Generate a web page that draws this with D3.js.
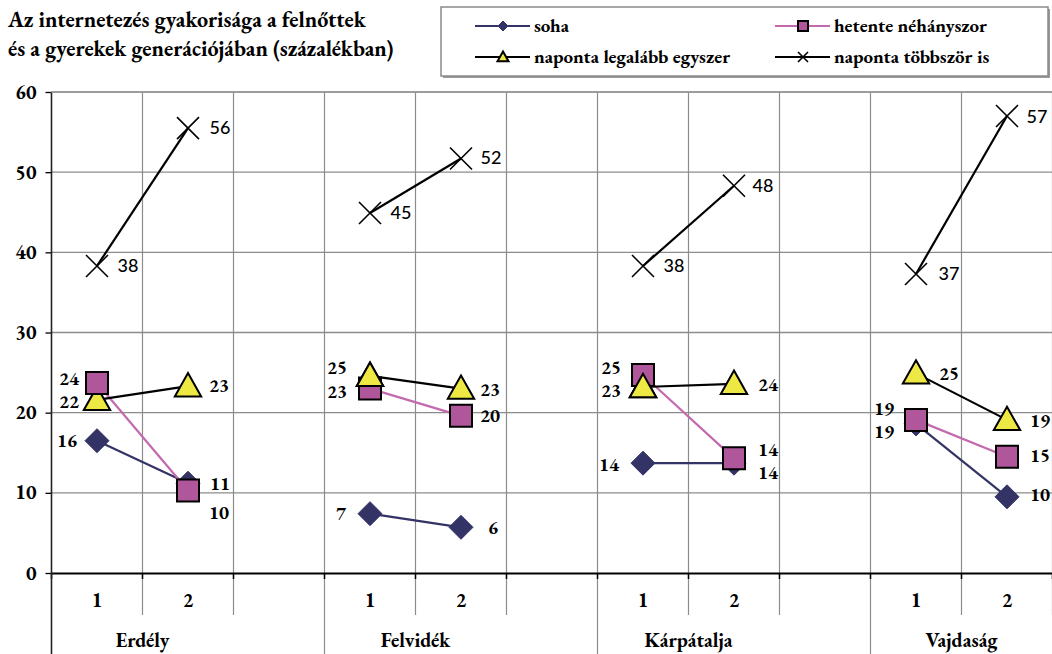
<!DOCTYPE html>
<html><head><meta charset="utf-8">
<script src="https://cdn.jsdelivr.net/npm/d3@7/dist/d3.min.js"></script>
<style>
html,body{margin:0;padding:0;background:#fff;}
svg{display:block;}
text{font-variant-numeric:lining-nums;}
</style></head>
<body>
<svg id="chart" width="1052" height="654"></svg>
<script>
// ---- data ----
const regions = ["Erdély", "Felvidék", "Kárpátalja", "Vajdaság"];
const generations = ["1", "2"];
const yTicks = [0, 10, 20, 30, 40, 50, 60];
const seriesNames = ["soha", "hetente néhányszor", "naponta legalább egyszer", "naponta többször is"];
// values per region: [generation 1, generation 2]
const soha      = [[16.5, 11.2], [7.4, 5.7], [13.7, 13.7], [18.6, 9.5]];
const hetente   = [[23.7, 10.3], [23.0, 19.6], [24.7, 14.3], [19.1, 14.5]];
const legalabb  = [[21.6, 23.3], [24.6, 23.0], [23.2, 23.6], [24.9, 19.1]];
const tobbszor  = [[38.3, 55.5], [44.9, 51.7], [38.3, 48.3], [37.3, 57.0]];
const labels = {
  soha:     [["16","11"],["7","6"],["14","14"],["19","10"]],
  hetente:  [["24","10"],["23","20"],["25","14"],["19","15"]],
  legalabb: [["22","23"],["25","23"],["23","24"],["25","19"]],
  tobbszor: [["38","56"],["45","52"],["38","48"],["37","57"]]
};

// ---- layout ----
const SERIF = "'EB Garamond', 'Liberation Serif', serif";
const SANS = "Lato, 'Liberation Sans', sans-serif";
const svg = d3.select("#chart");
const plotTop = 92, plotBottom = 573, plotLeft = 51.5, plotRight = 1052.5;
const slots = [];
regions.forEach((r, ri) => {
  generations.forEach(g => slots.push(r + "|" + g));
  if (ri < regions.length - 1) slots.push("gap" + ri);
});
const x = d3.scaleBand().domain(slots).range([plotLeft, plotRight]).padding(0);
const y = d3.scaleLinear().domain([0, 60]).range([plotBottom, plotTop]);
const grid = "#8c8c8c";

// horizontal grid
svg.append("g").selectAll("line").data(yTicks.filter(d => d > 0)).join("line")
  .attr("x1", plotLeft).attr("x2", plotRight).attr("y1", d => y(d)).attr("y2", d => y(d))
  .attr("stroke", grid).attr("stroke-width", 1.3);

// vertical grid & separators
const bounds = slots.map(s => x(s)).concat([plotRight]);
const gLines = svg.append("g");
bounds.forEach((bx, i) => {
  if (i === 0) return;
  const isSep = slots[i] && slots[i].indexOf("|1") > 0; // start of a region
  gLines.append("line").attr("x1", bx).attr("x2", bx).attr("y1", plotTop).attr("y2", isSep ? 654 : 615)
    .attr("stroke", grid).attr("stroke-width", 1.2);
});

// x axis (tick marks)
const xAxis = d3.axisBottom(x).tickValues([]).tickSizeOuter(0);
const ax = svg.append("g").attr("transform", `translate(0,${plotBottom})`).call(xAxis);
ax.select(".domain").attr("stroke", "#000").attr("stroke-width", 1.8);
svg.append("g").selectAll("line").data(bounds).join("line")
  .attr("x1", d => d).attr("x2", d => d).attr("y1", plotBottom).attr("y2", plotBottom + 6)
  .attr("stroke", "#000").attr("stroke-width", 1.5);

// generation labels
svg.append("g").selectAll("text").data(slots.filter(s => s.indexOf("|") > 0)).join("text")
  .attr("x", s => x(s) + x.bandwidth() / 2).attr("y", 607)
  .attr("text-anchor", "middle").attr("font-weight", "bold").attr("font-size", 20)
  .attr("font-family", SERIF)
  .text(s => s.split("|")[1]);
// region labels
svg.append("g").selectAll("text").data(regions).join("text")
  .attr("x", r => (x(r + "|1") + x(r + "|2") + x.bandwidth()) / 2).attr("y", 647)
  .attr("text-anchor", "middle").attr("font-weight", "bold").attr("font-size", 20)
  .attr("font-family", SERIF)
  .text(r => r);

// y axis
const yAxis = d3.axisLeft(y).tickValues(yTicks).tickSize(6).tickSizeOuter(0);
const ay = svg.append("g").attr("transform", `translate(${plotLeft},0)`).call(yAxis)
  .attr("font-family", SERIF);
ay.select(".domain").remove();
ay.selectAll(".tick line").attr("stroke", "#000").attr("stroke-width", 1.3);
ay.selectAll(".tick text").attr("font-family", SERIF).attr("font-weight", "bold")
  .attr("font-size", 20).attr("fill", "#000").attr("x", -15).attr("dy", "0.3em");
svg.append("line").attr("x1", plotLeft).attr("x2", plotLeft).attr("y1", plotTop).attr("y2", 654)
  .attr("stroke", "#222").attr("stroke-width", 1.6);
// top border
svg.append("line").attr("x1", plotLeft).attr("x2", plotRight).attr("y1", plotTop).attr("y2", plotTop)
  .attr("stroke", "#999").attr("stroke-width", 1.5);

// ---- series ----
const series = [
  {key: "soha", data: soha, line: "#333366", marker: "diamond", fill: "#333366"},
  {key: "hetente", data: hetente, line: "#c36aae", marker: "square", fill: "#b0579b"},
  {key: "legalabb", data: legalabb, line: "#000", marker: "triangle", fill: "#eee844"},
  {key: "tobbszor", data: tobbszor, line: "#000", marker: "cross", fill: "none"}
];
function markerPath(type, s) {
  if (type === "diamond") return `M0,${-s}L${s},0L0,${s}L${-s},0Z`;
  if (type === "square") return `M${-s},${-s}H${s}V${s}H${-s}Z`;
  if (type === "triangle") return `M0,${-s*1.1}L${s*1.1},${s*0.85}L${-s*1.1},${s*0.85}Z`;
  return `M${-s},${-s}L${s},${s}M${s},${-s}L${-s},${s}`;
}
function drawMarker(g, type, fill, cx, cy, s) {
  const p = g.append("path").attr("transform", `translate(${cx},${cy})`).attr("d", markerPath(type, s));
  if (type === "cross") p.attr("fill", "none").attr("stroke", "#000").attr("stroke-width", 1.6);
  else if (type === "diamond") p.attr("fill", fill).attr("stroke", fill).attr("stroke-width", 1);
  else p.attr("fill", fill).attr("stroke", "#000").attr("stroke-width", 2);
}
const cxOf = (ri, gi) => x(regions[ri] + "|" + generations[gi]) + x.bandwidth() / 2;
const lineGen = d3.line().x(d => d[0]).y(d => d[1]);
const sizes = {diamond: 12, square: 11, triangle: 12, cross: 11};

series.forEach(s => {
  const g = svg.append("g");
  regions.forEach((r, ri) => {
    const pts = generations.map((gn, gi) => [cxOf(ri, gi), y(s.data[ri][gi])]);
    g.append("path").attr("d", lineGen(pts)).attr("fill", "none")
      .attr("stroke", s.line).attr("stroke-width", 2.2);
  });
});
[0, 2, 1, 3].forEach(si => {
  const s = series[si];
  const g = svg.append("g");
  regions.forEach((r, ri) => {
    generations.forEach((gn, gi) => {
      drawMarker(g, s.marker, s.fill, cxOf(ri, gi), y(s.data[ri][gi]), sizes[s.marker]);
    });
  });
});
// in Felvidék 1 and Kárpátalja 1 the triangle sits over the square
[[1,0],[2,0]].forEach(([ri, gi]) => {
  drawMarker(svg, "triangle", series[2].fill, cxOf(ri, gi), y(legalabb[ri][gi]), sizes.triangle);
});

// ---- data labels ----
// offsets [dx, dy] relative to the point centre, per series, region, generation
const labelOffsets = {
  soha:     [[[-30, 0], [32, 1]], [[-29, 0], [32, 0]], [[-34, 2], [34, 10]], [[-32, 8], [33, -2]]],
  hetente:  [[[-28, -4], [31, 22]], [[-33, 3], [29, 0]], [[-32, -7], [34, -9]], [[-32, -11], [33, -1]]],
  legalabb: [[[-28, 2], [31, 0]], [[-33, -8], [29, 1]], [[-32, 4], [34, 1]], [[33, 0], [33, 1]]],
  tobbszor: [[[31, 0], [32, 0]], [[31, 0], [30, 0]], [[31, 0], [29, 0]], [[33, 0], [30, 1]]]
};
series.forEach(s => {
  const g = svg.append("g");
  regions.forEach((r, ri) => {
    generations.forEach((gn, gi) => {
      const off = labelOffsets[s.key][ri][gi];
      const t = g.append("text")
        .attr("x", cxOf(ri, gi) + off[0]).attr("y", y(s.data[ri][gi]) + off[1])
        .attr("dy", "0.33em").attr("text-anchor", "middle")
        .attr("font-size", 19).attr("fill", "#000")
        .text(labels[s.key][ri][gi]);
      if (s.key === "tobbszor") t.attr("font-family", SANS).attr("font-size", 18).attr("font-weight", 500);
      else t.attr("font-weight", "bold").attr("font-family", SERIF);
    });
  });
});

// ---- title ----
svg.append("text").attr("x", 8).attr("y", 27).attr("font-weight", "bold").attr("font-size", 22)
  .attr("font-family", SERIF)
  .text("Az internetezés gyakorisága a felnőttek");
svg.append("text").attr("x", 8).attr("y", 56).attr("font-weight", "bold").attr("font-size", 22)
  .attr("font-family", SERIF)
  .text("és a gyerekek generációjában (százalékban)");

// ---- legend ----
const lg = svg.append("g");
lg.append("rect").attr("x", 443).attr("y", 9).attr("width", 607).attr("height", 69)
  .attr("fill", "#9a9a9a");
lg.append("rect").attr("x", 441).attr("y", 7).attr("width", 607).attr("height", 69)
  .attr("fill", "#fff").attr("stroke", "#8a8a8a").attr("stroke-width", 1.5);
const legendPos = [[475, 26], [775, 26], [475, 57], [775, 57]];
series.forEach((s, i) => {
  const [lx, ly] = legendPos[i];
  lg.append("line").attr("x1", lx).attr("x2", lx + 55).attr("y1", ly).attr("y2", ly)
    .attr("stroke", s.line).attr("stroke-width", 2.2);
  drawMarker(lg, s.marker, s.fill, lx + 28, ly, 5);
  lg.append("text").attr("x", lx + 59).attr("y", ly).attr("dy", "0.3em")
    .attr("font-family", SERIF)
    .attr("font-weight", "bold").attr("font-size", 19).text(seriesNames[i]);
});
</script>
</body></html>
